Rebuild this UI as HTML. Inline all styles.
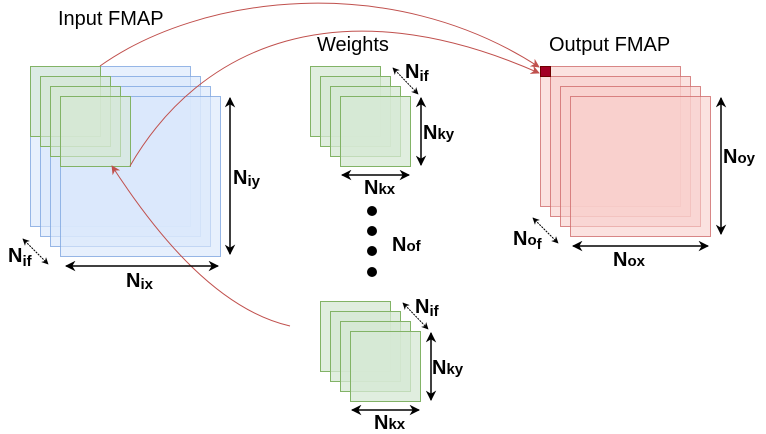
<!DOCTYPE html>
<html><head><meta charset="utf-8"><style>
html,body{margin:0;padding:0;background:#fff;}
svg{display:block;font-family:"Liberation Sans",sans-serif;}
.t{font-size:20px;fill:#000;}
.b{font-weight:bold;fill:#000;}
</style></head><body>
<svg width="766" height="434" viewBox="0 0 766 434" xmlns="http://www.w3.org/2000/svg">
<defs>
<marker id="ab" viewBox="0 0 10 10" refX="9" refY="5" markerWidth="7" markerHeight="7" orient="auto-start-reverse"><path d="M0,0 L10,5 L0,10 L3,5 z" fill="#000"/></marker>
<marker id="ar" viewBox="0 0 10 10" refX="9" refY="5" markerWidth="9" markerHeight="9" orient="auto"><path d="M0,0 L10,5 L0,10 L3,5 z" fill="#c0504d"/></marker>
</defs>

<text class="t" x="58" y="25">Input FMAP</text>
<text class="t" x="317" y="51">Weights</text>
<text class="t" x="549" y="51">Output FMAP</text>

<g fill="#dae8fc" fill-opacity="0.65" stroke="#7ea6e0" stroke-opacity="0.8">
<rect x="30.5" y="66.5" width="160" height="160"/>
<rect x="40.5" y="76.5" width="160" height="160"/>
<rect x="50.5" y="86.5" width="160" height="160"/>
<rect x="60.5" y="96.5" width="160" height="160"/>
</g>
<g fill="#d5e8d4" fill-opacity="0.6" stroke="#82b366">
<rect x="30.5" y="66.5" width="70" height="70"/>
<rect x="40.5" y="76.5" width="70" height="70"/>
<rect x="50.5" y="86.5" width="70" height="70"/>
<rect x="60.5" y="96.5" width="70" height="70"/>
</g>

<g fill="#d5e8d4" fill-opacity="0.75" stroke="#82b366">
<rect x="310.5" y="66.5" width="70" height="70"/>
<rect x="320.5" y="76.5" width="70" height="70"/>
<rect x="330.5" y="86.5" width="70" height="70"/>
<rect x="340.5" y="96.5" width="70" height="70"/>
<rect x="320.5" y="301.5" width="70" height="70"/>
<rect x="330.5" y="311.5" width="70" height="70"/>
<rect x="340.5" y="321.5" width="70" height="70"/>
<rect x="350.5" y="331.5" width="70" height="70"/>
</g>

<g fill="#f8cecc" fill-opacity="0.6" stroke="#d06c6c" stroke-opacity="0.8">
<rect x="540.5" y="66.5" width="140" height="140"/>
<rect x="550.5" y="76.5" width="140" height="140"/>
<rect x="560.5" y="86.5" width="140" height="140"/>
<rect x="570.5" y="96.5" width="140" height="140"/>
</g>
<rect x="540.5" y="66.5" width="10" height="10" fill="#a20025" stroke="#6f0000"/>

<g fill="none" stroke="#c0504d" stroke-width="1">
<path d="M100,66 C200,-5 390,-30 539,67" marker-end="url(#ar)"/>
<path d="M130,166 C200,45 340,-15 539,73" marker-end="url(#ar)"/>
<path d="M290,326 C220,310 160,240 112,166" marker-end="url(#ar)"/>
</g>

<g stroke="#000" fill="none">
<line x1="230" y1="98" x2="230" y2="254" stroke-width="1.5" marker-start="url(#ab)" marker-end="url(#ab)"/>
<line x1="66" y1="266" x2="218" y2="266" stroke-width="1.5" marker-start="url(#ab)" marker-end="url(#ab)"/>
<line x1="23" y1="239" x2="48" y2="264" stroke-width="1" stroke-dasharray="2,1" marker-start="url(#ab)" marker-end="url(#ab)"/>
<line x1="721" y1="98" x2="721" y2="234" stroke-width="1.5" marker-start="url(#ab)" marker-end="url(#ab)"/>
<line x1="573" y1="246" x2="708" y2="246" stroke-width="1.5" marker-start="url(#ab)" marker-end="url(#ab)"/>
<line x1="533" y1="218" x2="558" y2="243" stroke-width="1" stroke-dasharray="2,1" marker-start="url(#ab)" marker-end="url(#ab)"/>
<line x1="421" y1="98" x2="421" y2="165" stroke-width="1.5" marker-start="url(#ab)" marker-end="url(#ab)"/>
<line x1="342" y1="175" x2="409" y2="175" stroke-width="1.5" marker-start="url(#ab)" marker-end="url(#ab)"/>
<line x1="393" y1="68" x2="418" y2="94" stroke-width="1" stroke-dasharray="2,1" marker-start="url(#ab)" marker-end="url(#ab)"/>
<line x1="431" y1="333" x2="431" y2="400" stroke-width="1.5" marker-start="url(#ab)" marker-end="url(#ab)"/>
<line x1="352" y1="410" x2="419" y2="410" stroke-width="1.5" marker-start="url(#ab)" marker-end="url(#ab)"/>
<line x1="403" y1="303" x2="428" y2="329" stroke-width="1" stroke-dasharray="2,1" marker-start="url(#ab)" marker-end="url(#ab)"/>
</g>

<g fill="#000">
<circle cx="372" cy="211" r="5"/>
<circle cx="372" cy="231" r="5"/>
<circle cx="372" cy="251" r="5"/>
<circle cx="372" cy="272" r="5"/>
</g>

<g class="b">
<text x="233" y="184" font-size="20">N<tspan font-size="15" dy="2">iy</tspan></text>
<text x="126" y="287" font-size="20">N<tspan font-size="15" dy="2">ix</tspan></text>
<text x="8" y="262" font-size="20">N<tspan font-size="15" dy="4">if</tspan></text>
<text x="723" y="163" font-size="20">N<tspan font-size="15">oy</tspan></text>
<text x="613" y="266" font-size="20">N<tspan font-size="15">ox</tspan></text>
<text x="513" y="245" font-size="20">N<tspan font-size="15">o</tspan><tspan font-size="15" dy="4">f</tspan></text>
<text x="405" y="78" font-size="20">N<tspan font-size="15" dy="3">if</tspan></text>
<text x="423" y="139" font-size="20">N<tspan font-size="15">ky</tspan></text>
<text x="364" y="194" font-size="20">N<tspan font-size="15">kx</tspan></text>
<text x="392" y="251" font-size="20">N<tspan font-size="15">of</tspan></text>
<text x="415" y="313" font-size="20">N<tspan font-size="15" dy="3">if</tspan></text>
<text x="432" y="374" font-size="20">N<tspan font-size="15">ky</tspan></text>
<text x="374" y="429" font-size="20">N<tspan font-size="15">kx</tspan></text>
</g>
</svg>
</body></html>
